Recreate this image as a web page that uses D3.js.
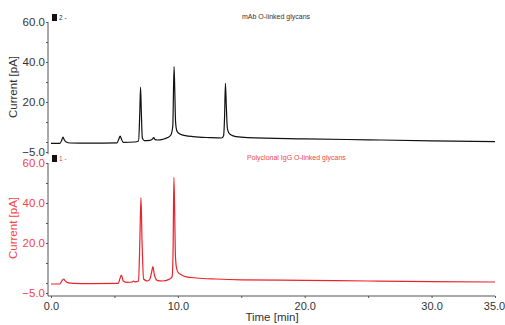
<!DOCTYPE html>
<html>
<head>
<meta charset="utf-8">
<script src="https://cdn.jsdelivr.net/npm/d3@7"></script>
<style>
  body { margin: 0; background: #fff; }
  svg { display: block; font-family: 'Liberation Sans', Arial, sans-serif; }
</style>
</head>
<body>
<div id="chart"></div>
<script>
// trace 2 - mAb O-linked glycans
const mabTime = [0, 0.7, 0.85, 0.95, 1.05, 1.2, 1.5, 3, 5.2, 5.35, 5.45, 5.55, 5.7, 6.6, 6.9, 7.0, 7.06, 7.12, 7.2, 7.35, 7.8, 8.0, 8.1, 8.2, 8.4, 8.8, 9.2, 9.45, 9.6, 9.7, 9.76, 9.82, 9.9, 10.0, 10.2, 10.6, 11.2, 12.5, 13.45, 13.6, 13.68, 13.75, 13.82, 13.9, 14.0, 14.2, 14.6, 15.5, 20, 25, 30, 35];
const mabValues = [-0.7, -0.7, 1.0, 2.5, 1.0, 0, -0.5, -0.6, -0.4, 1.5, 3, 1.5, -0.2, 0, 0.5, 15, 27.5, 15, 2, 0.7, 0.8, 1.5, 2.2, 1.2, 1.0, 1.3, 2.2, 3.5, 8, 37.7, 25, 10, 6, 4.8, 3.9, 3.2, 2.7, 2.2, 2.0, 3, 12, 29.3, 18, 7, 4.8, 3.5, 2.7, 2.2, 1.6, 1.1, 0.6, 0.2];

// trace 1 - polyclonal IgG O-linked glycans
const iggTime = [0, 0.7, 0.85, 1.0, 1.1, 1.3, 1.8, 3, 5.3, 5.45, 5.55, 5.7, 6.0, 6.4, 6.5, 6.6, 6.9, 7.0, 7.09, 7.18, 7.3, 7.6, 7.8, 7.95, 8.03, 8.15, 8.4, 8.8, 9.3, 9.55, 9.62, 9.69, 9.75, 9.8, 9.88, 10.0, 10.3, 10.6, 11.5, 13, 15, 20, 25, 30, 35];
const iggValues = [-0.5, -0.5, 1.0, 2.0, 1.2, 0.2, -0.2, -0.3, -0.2, 2.5, 4, 1, 0.3, 0.5, 1.0, 0.6, 1, 20, 42.7, 20, 2, 1, 2, 6, 8.2, 4, 1.2, 1, 1.8, 3.2, 15, 52.8, 35, 15, 8, 5.5, 4, 3.2, 2.5, 2.0, 1.6, 1.3, 1.0, 0.7, 0.5];

// tick labels
const xTicks = [0, 5, 10, 15, 20, 25, 30, 35];
const xLabels = [0, 10, 20, 30, 35];
const yTicks = [-5, 0, 10, 20, 30, 40, 50, 60];
const yLabels = [-5, 20, 40, 60];

const width = 505, height = 325;
const red = '#e8232b', redText = '#f0454a', grey = '#555';

let svg = d3
  .select('#chart')
  .append('svg')
  .attr('width', width)
  .attr('height', height);

// shared x scale
let xScale = d3.scaleLinear().domain([0, 35]).range([51, 495]);

const panels = [
  { time: mabTime, values: mabValues, top: 22, bottom: 152, color: '#111', text: '#333', num: '2 -', title: 'mAb O-linked glycans', titleX: 242 },
  { time: iggTime, values: iggValues, top: 163, bottom: 293, color: red, text: redText, num: '1 -', title: 'Polyclonal IgG O-linked glycans', titleX: 247 }
];

panels.forEach((p, i) => {
  let yScale = d3.scaleLinear().domain([-5, 60]).range([p.bottom, p.top]);

  // y axis
  let yAxis = svg
    .append('g')
    .attr('transform', 'translate(48,0)')
    .call(d3.axisLeft(yScale)
      .tickValues(yTicks)
      .tickSize(2)
      .tickSizeOuter(0)
      .tickFormat((d) => yLabels.includes(d) ? d3.format('.1f')(d) : ''));
  yAxis.select('.domain')
    .attr('stroke', grey)
    .attr('d', `M0,${p.top}V${i == 1 ? 296 : p.bottom + 2}`);
  yAxis.selectAll('.tick line').attr('stroke', grey);
  yAxis.selectAll('.tick text')
    .attr('x', -3)
    .attr('font-size', '11.5px')
    .attr('font-family', "'Liberation Sans', Arial, sans-serif")
    .attr('fill', i == 1 ? redText : '#333');

  // y axis label
  svg
    .append('text')
    .attr('transform', `translate(17, ${(p.top + p.bottom) / 2}) rotate(-90)`)
    .attr('text-anchor', 'middle')
    .attr('font-size', '11.5px')
    .attr('fill', i == 1 ? redText : '#333')
    .text('Current [pA]');

  // trace number marker
  svg
    .append('rect')
    .attr('x', 52)
    .attr('y', p.top - 8)
    .attr('width', 5)
    .attr('height', 7)
    .attr('fill', '#111');
  svg
    .append('text')
    .attr('x', 59)
    .attr('y', p.top - 2)
    .attr('font-size', '6.5px')
    .attr('fill', p.text)
    .text(p.num);

  // panel title
  svg
    .append('text')
    .attr('x', p.titleX)
    .attr('y', p.top - 3)
    .attr('font-size', '7px')
    .attr('fill', p.text)
    .text(p.title);

  // chromatogram
  let line = d3.line()
    .curve(d3.curveMonotoneX)
    .x((d) => xScale(d[0]))
    .y((d) => yScale(d[1]));
  svg
    .append('path')
    .datum(d3.zip(p.time, p.values))
    .attr('fill', 'none')
    .attr('stroke', p.color)
    .attr('stroke-width', 1.2)
    .attr('stroke-linejoin', 'round')
    .attr('d', line);
});

// x axis
let xAxis = svg
  .append('g')
  .attr('transform', 'translate(0,296)')
  .call(d3.axisBottom(xScale)
    .tickValues(xTicks)
    .tickSize(2)
    .tickSizeOuter(0)
    .tickFormat((d) => xLabels.includes(d) ? d3.format('.1f')(d) : ''));
xAxis.select('.domain').attr('stroke', grey).attr('d', 'M48,0H495');
xAxis.selectAll('.tick line').attr('stroke', grey);
xAxis.selectAll('.tick text')
  .attr('y', 6)
  .attr('font-size', '11px')
  .attr('font-family', "'Liberation Sans', Arial, sans-serif")
  .attr('fill', '#333');
// keep the last label inside the window
xAxis.selectAll('.tick text').filter((d) => d == 35).attr('dx', -1);

// X axis label
svg
  .append('text')
  .attr('x', 272)
  .attr('y', 321)
  .attr('text-anchor', 'middle')
  .attr('font-size', '11.5px')
  .attr('fill', '#333')
  .text('Time [min]');
</script>
</body>
</html>
